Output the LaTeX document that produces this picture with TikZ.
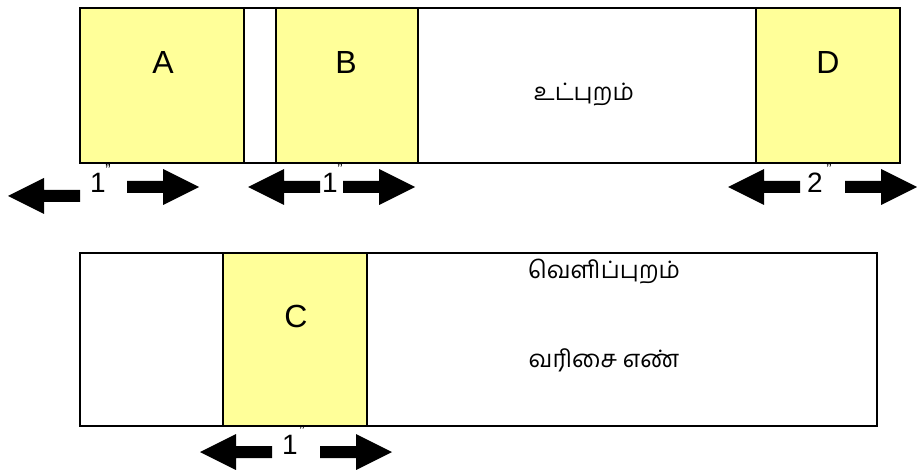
\documentclass[tikz,border=0pt]{standalone}
\usepackage{fontspec}
\setmainfont{Liberation Sans}
\newfontfamily\tamilfont[Script=Tamil]{Hind Madurai}
\definecolor{paleyellow}{RGB}{255,255,153}
\tikzset{
  frame/.style={draw, line width=1.2pt},
  cell/.style={fill=paleyellow, draw, line width=1.2pt},
  letter/.style={font=\fontsize{32}{36}\selectfont},
  digit/.style={font=\fontsize{28}{32}\selectfont, inner sep=0pt},
  inch/.style={font=\fontsize{16}{18}\selectfont, inner sep=0pt},
  tamil/.style={font=\tamilfont\fontsize{24}{28}\selectfont},
  pics/leftarr/.style={code={\fill (0,0) -- (36,-18) -- (36,-6) -- (72,-6) -- (72,6) -- (36,6) -- (36,18) -- cycle;}},
  pics/rightarr/.style={code={\fill (0,0) -- (-36,-18) -- (-36,-6) -- (-72,-6) -- (-72,6) -- (-36,6) -- (-36,18) -- cycle;}},
}
\begin{document}
\begin{tikzpicture}[x=1pt,y=-1pt]
  \useasboundingbox (0,0) rectangle (917,470);
  % top strip
  \draw[frame] (80,8) rectangle (900,163);
  \draw[cell] (80,8) rectangle (244,163);
  \draw[cell] (276,8) rectangle (418,163);
  \draw[cell] (756,8) rectangle (900,163);
  \node[letter] (labA) at (163,62) {A};
  \node[letter] (labB) at (346,62) {B};
  \node[letter] (labD) at (828,62) {D};
  \node[tamil] (inner) at (584,95) {உட்புறம்};
  % widths under the top strip
  \pic at (8,196) {leftarr};
  \pic at (199,187) {rightarr};
  \node[digit] (wA) at (98,183) {1};
  \node[inch] at (108,170) {”};
  \pic at (248,187) {leftarr};
  \pic at (415,187) {rightarr};
  \node[digit] (wB) at (330,183) {1};
  \node[inch] at (340,169) {”};
  \pic at (728,187) {leftarr};
  \pic at (917,187) {rightarr};
  \node[digit] (wD) at (815,183) {2};
  \node[inch] at (829,169) {”};
  % bottom strip
  \draw[frame] (80,253) rectangle (877,426);
  \draw[cell] (223,253) rectangle (367,426);
  \node[letter] (labC) at (296,316) {C};
  \node[tamil] (outer) at (604,272) {வெளிப்புறம்};
  \node[tamil] (serial) at (604,360) {வரிசை எண்};
  \pic at (200,452) {leftarr};
  \pic at (392,452) {rightarr};
  \node[digit] (wC) at (290,445) {1};
  \node[inch] at (302,431) {”};
\end{tikzpicture}
\end{document}
